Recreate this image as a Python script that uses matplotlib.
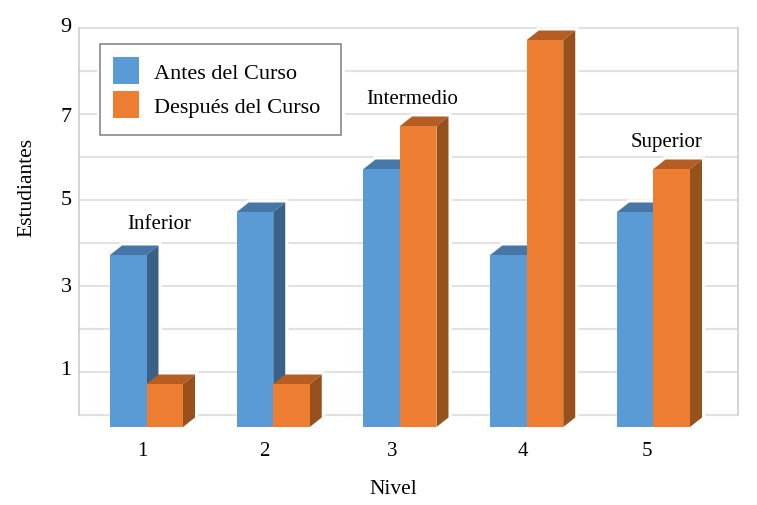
import matplotlib
matplotlib.use("Agg")
import matplotlib.pyplot as plt
from matplotlib.patches import Patch, Polygon
from matplotlib.transforms import Affine2D

plt.rcParams['font.family'] = ['Liberation Serif', 'DejaVu Serif']

# Data
niveles = [1, 2, 3, 4, 5]
antes = [4, 5, 6, 4, 5]
despues = [1, 1, 7, 9, 6]
series_names = ["Antes del Curso", "Después del Curso"]
nombres_nivel = ["Inferior", "Intermedio", "Superior"]
nivel_de_nombre = [1, 3, 5]
altura_nombre = [4.46, 7.37, 6.35]
y_ticks = [1, 3, 5, 7, 9]

# Styling / layout
W, H = 757, 506
L, R, T, B = 78.5, 738, 29, 416
PX_X = 126.75
PX_Y = 43.0
X0 = 146.5
BLUE = ("#5b9bd5", "#4777a6", "#3a6288")
ORANGE = ("#ed7d31", "#b55d22", "#97511d")
bar_w = 36.5 / PX_X
dx = 12 / PX_X
dy = 9.5 / PX_Y
base = -12 / PX_Y

fig = plt.figure(figsize=(W / 100, H / 100), dpi=100, facecolor="white")
ax = fig.add_axes([L / W, (H - B) / H, (R - L) / W, (B - T) / H])
xlim = (1 - (X0 - L) / PX_X, 1 + (R - X0) / PX_X)
ylim = (0, (B - T) / PX_Y)

for s in ("top", "bottom"):
    ax.spines[s].set_visible(False)
for s in ("left", "right"):
    ax.spines[s].set_color("#c9c9c9")
    ax.spines[s].set_linewidth(1.1)
    ax.spines[s].set_zorder(1)

ax.hlines(range(0, 10), *xlim, color="#e2e2e2", lw=1.5, zorder=0.5, clip_on=False)


def bar3d(x_left, value, colors, z):
    top = base + value
    xr = x_left + bar_w
    # white halo lies below every bar and only hides the gridlines
    ax.add_patch(Polygon([(xr, base), (xr + dx, base + dy), (xr + dx, top + dy), (x_left + dx, top + dy),
                          (x_left, top), (xr, top)],
                         closed=True, facecolor="white", edgecolor="white", lw=4.5, zorder=1.5, clip_on=False))
    ax.add_patch(Polygon([(x_left, top), (xr, top), (xr + dx, top + dy), (x_left + dx, top + dy)],
                         closed=True, facecolor=colors[1], edgecolor="none", zorder=z + 0.1, clip_on=False))
    ax.add_patch(Polygon([(xr, base), (xr + dx, base + dy), (xr + dx, top + dy), (xr, top)],
                         closed=True, facecolor=colors[2], edgecolor="none", zorder=z + 0.1, clip_on=False))
    ax.bar(x_left, value, width=bar_w, bottom=base, align="edge", color=colors[0],
           zorder=z + 0.2, clip_on=False)


for n, a, d in zip(niveles, antes, despues):
    bar3d(n - bar_w, a, BLUE, 2 + n)
    bar3d(n, d, ORANGE, 2.5 + n)

for name, n, h in zip(nombres_nivel, nivel_de_nombre, altura_nombre):
    ax.text(n + 0.10, h, name, ha="center", va="center", fontsize=15, color="black", zorder=10)

# tick labels (slightly irregular in the source)
ax.set_xticks([0.968, 1.931, 2.942, 3.968, 4.946], [str(n) for n in niveles], fontsize=15)
ax.set_yticks(y_ticks, [str(v) for v in y_ticks], fontsize=16)
ax.tick_params(axis="x", length=0, pad=19)
ax.tick_params(axis="y", length=0, pad=5)
ax.set_xlim(*xlim)
ax.set_ylim(*ylim)
for lab, up_px in zip(ax.get_yticklabels(), [5, 2, 3, 0, 4]):
    lab.set_transform(lab.get_transform() + Affine2D().translate(0, up_px))

ax.set_xlabel("Nivel", fontsize=15.5, va="center")
ax.xaxis.set_label_coords((393 - L) / (R - L), (B - 490) / (B - T))
ax.set_ylabel("Estudiantes", fontsize=15.5, va="center")
ax.yaxis.set_label_coords((26.5 - L) / (R - L), (B - 187) / (B - T))

# halo round the legend, hiding the gridlines, and the legend frame
ax.add_patch(plt.Rectangle((97, H - 140), 248, 98, transform=None, facecolor="white",
                           edgecolor="none", zorder=19))
ax.add_patch(plt.Rectangle((100, H - 136), 241, 91, transform=None, facecolor="white",
                           edgecolor="#7f7f7f", lw=1.1, zorder=19.5))
handles = [Patch(facecolor=BLUE[0], edgecolor="none", label=series_names[0]),
           Patch(facecolor=ORANGE[0], edgecolor="none", label=series_names[1])]
leg = ax.legend(handles=handles, loc="upper left",
                bbox_to_anchor=((100 - L) / (R - L), (B - 45) / (B - T)),
                borderaxespad=0, fontsize=16, frameon=False,
                handlelength=1.17, handleheight=1.49, handletextpad=0.68,
                labelspacing=0.32, borderpad=0.58)
leg.set_zorder(20)

fig.savefig("out.png", dpi=100, facecolor="white")
